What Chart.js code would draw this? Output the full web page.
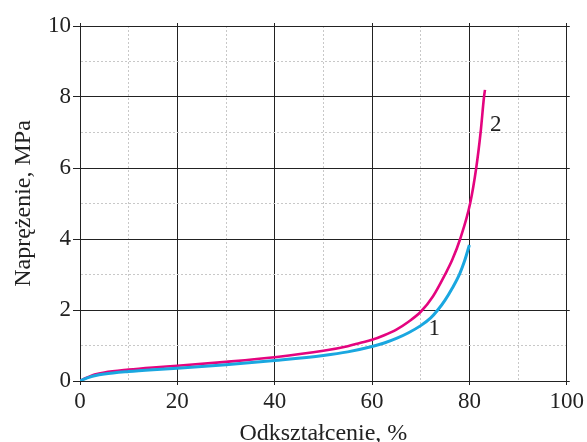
<!DOCTYPE html>
<html>
<head>
<meta charset="utf-8">
<script src="https://cdn.jsdelivr.net/npm/chart.js@4.4.0/dist/chart.umd.min.js"></script>
<style>
  html, body { margin: 0; padding: 0; background: #fff; }
</style>
</head>
<body>
<canvas id="wykres" width="587" height="442"></canvas>
<script>
// Krzywa 1 (niebieska): odkształcenie [%] -> naprężenie [MPa]
const odksztalcenie1 = [0, 1, 2, 3, 5, 10, 15, 20, 30, 40, 50, 55, 60, 62.5, 65, 67.5, 70, 72, 73.5, 75, 76.5, 78, 79, 80];
const naprezenie1 = [0, 0.06, 0.11, 0.15, 0.2, 0.27, 0.32, 0.36, 0.46, 0.58, 0.72, 0.82, 0.97, 1.07, 1.2, 1.36, 1.56, 1.77, 2.0, 2.28, 2.62, 3.02, 3.38, 3.83];

// Krzywa 2 (różowa)
const odksztalcenie2 = [0, 1, 2, 3, 5, 10, 15, 20, 30, 40, 50, 55, 57.5, 60, 62.5, 65, 67.5, 70, 72.5, 75, 76.5, 78.1, 80.15, 81.4, 82.3, 83.0, 83.2];
const naprezenie2 = [0, 0.07, 0.13, 0.18, 0.24, 0.32, 0.38, 0.43, 0.54, 0.67, 0.85, 0.98, 1.07, 1.16, 1.29, 1.45, 1.67, 1.95, 2.38, 3.0, 3.42, 4.0, 5.0, 6.0, 7.0, 8.0, 8.2];

// Etykiety krzywych
const etykiety = ["1", "2"];
const etykietyX = [72.8, 85.4];
const etykietyY = [1.46, 7.2];

const CZCIONKA = "'Liberation Serif', 'Times New Roman', serif";

function punkty(xs, ys) {
  return xs.map((x, i) => ({ x: x, y: ys[i] }));
}

// Siatka: główne linie ciągłe, pomocnicze kropkowane
function czyGlowna(ctx, krok) {
  return ctx.tick && Math.round(ctx.tick.value) % krok === 0;
}

// Plugin rysujący numery krzywych
const podpisyKrzywych = {
  id: "podpisyKrzywych",
  afterDatasetsDraw(chart) {
    const { ctx, scales } = chart;
    ctx.save();
    ctx.font = "23px " + CZCIONKA;
    ctx.fillStyle = "#222";
    ctx.textAlign = "center";
    ctx.textBaseline = "middle";
    etykiety.forEach((t, i) => {
      ctx.fillText(t, scales.x.getPixelForValue(etykietyX[i]), scales.y.getPixelForValue(etykietyY[i]));
    });
    ctx.restore();
  },
};

function rysuj() {
  new Chart(document.getElementById("wykres"), {
    type: "line",
    data: {
      datasets: [
        {
          label: "1",
          data: punkty(odksztalcenie1, naprezenie1),
          borderColor: "#1aa7e0",
          borderWidth: 3,
          pointRadius: 0,
          cubicInterpolationMode: "monotone",
        },
        {
          label: "2",
          data: punkty(odksztalcenie2, naprezenie2),
          borderColor: "#e4047f",
          borderWidth: 2.6,
          pointRadius: 0,
          cubicInterpolationMode: "monotone",
        },
      ],
    },
    options: {
      responsive: false,
      animation: false,
      layout: { padding: 0 },
      plugins: {
        legend: { display: false },
        tooltip: { enabled: false },
      },
      scales: {
        x: {
          type: "linear",
          position: "bottom",
          min: 0,
          max: 100,
          afterFit(s) { s.height = 61; },
          ticks: {
            stepSize: 10,
            autoSkip: false,
            maxRotation: 0,
            padding: 3,
            color: "#222",
            font: { family: CZCIONKA, size: 23 },
            callback: (v) => (v % 20 === 0 ? v : ""),
          },
          grid: {
            color: (c) => (czyGlowna(c, 20) ? "#222" : "#c8c8c8"),
            lineWidth: 1,
            tickLength: 4,
            tickColor: (c) => (czyGlowna(c, 20) ? "#222" : "rgba(0,0,0,0)"),
          },
          border: {
            color: "#222",
            width: 1,
            dash: (c) => (czyGlowna(c, 20) ? [] : [2, 2]),
          },
          title: {
            display: true,
            text: "Odkształcenie, %",
            color: "#222",
            font: { family: CZCIONKA, size: 24, lineHeight: 0.7 },
            padding: { top: 0, bottom: 0 },
          },
        },
        y: {
          type: "linear",
          position: "left",
          min: 0,
          max: 10,
          afterFit(s) { s.width = 80; },
          ticks: {
            stepSize: 1,
            autoSkip: false,
            padding: 2,
            color: "#222",
            font: { family: CZCIONKA, size: 23 },
            callback: (v) => (v % 2 === 0 ? v : ""),
          },
          grid: {
            color: (c) => (czyGlowna(c, 2) ? "#222" : "#c8c8c8"),
            lineWidth: 1,
            tickLength: 7,
            tickColor: (c) => (czyGlowna(c, 2) ? "#222" : "rgba(0,0,0,0)"),
          },
          border: {
            color: "#222",
            width: 1,
            dash: (c) => (czyGlowna(c, 2) ? [] : [2, 2]),
          },
          title: {
            display: true,
            text: "Naprężenie, MPa",
            color: "#222",
            font: { family: CZCIONKA, size: 24 },
            padding: { top: 9, bottom: 0 },
          },
        },
        x2: {
          type: "linear",
          position: "top",
          min: 0,
          max: 100,
          afterFit(s) { s.height = 26; },
          ticks: { stepSize: 10, display: false },
          grid: {
            drawOnChartArea: false,
            tickLength: 3,
            tickColor: (c) => (czyGlowna(c, 20) ? "#222" : "rgba(0,0,0,0)"),
          },
          border: { color: "#222", width: 1 },
        },
        y2: {
          type: "linear",
          position: "right",
          min: 0,
          max: 10,
          afterFit(s) { s.width = 20; },
          ticks: { stepSize: 1, display: false },
          grid: {
            drawOnChartArea: false,
            tickLength: 3,
            tickColor: (c) => (czyGlowna(c, 2) ? "#222" : "rgba(0,0,0,0)"),
          },
          border: { color: "#222", width: 1 },
        },
      },
    },
    plugins: [podpisyKrzywych],
  });
}

// czekamy na czcionkę szeryfową, żeby napisy nie spadły na zastępczą
if (document.fonts && document.fonts.load) {
  document.fonts.load("23px 'Liberation Serif'", "Odkształcenie Naprężenie 0123456789").then(rysuj, rysuj);
} else {
  rysuj();
}
</script>
</body>
</html>
